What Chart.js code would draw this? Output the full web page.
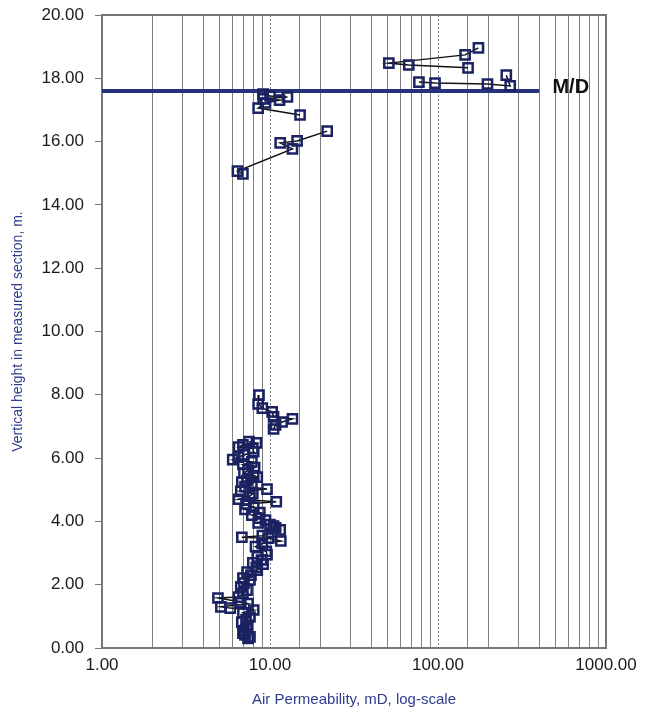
<!DOCTYPE html>
<html>
<head>
<meta charset="utf-8">
<script src="https://cdn.jsdelivr.net/npm/chart.js@4"></script>
<style>
  body { margin: 0; background: #fff; overflow: hidden; }
</style>
</head>
<body>
<canvas id="perm" width="645" height="716"></canvas>
<script>
// permeability (mD) and height (m), grouped the way the lines join them
var upperPermA   = [174, 145, 51, 67, 151];
var upperHeightA = [18.96, 18.74, 18.48, 18.42, 18.33];

var upperPermB   = [77, 96, 197, 269, 255];
var upperHeightB = [17.88, 17.85, 17.82, 17.76, 18.10];

var midPermA   = [9.1, 10.0, 12.7, 9.1, 11.4, 9.4, 8.5, 15.1];
var midHeightA = [17.50, 17.44, 17.41, 17.35, 17.31, 17.22, 17.06, 16.84];

var midPermB   = [21.9, 14.5, 11.5, 13.6, 6.4, 6.9];
var midHeightB = [16.33, 16.02, 15.96, 15.77, 15.07, 14.98];

var lowPermA   = [8.6, 8.5, 9.0, 10.3, 10.5, 13.6, 11.8, 10.8, 10.5];
var lowHeightA = [7.99, 7.71, 7.58, 7.46, 7.30, 7.24, 7.14, 7.05, 6.92];

var basePerm = [7.5, 8.3, 6.9, 6.5, 7.9, 8.0, 7.0, 6.5, 6.0, 7.8, 6.9, 8.1, 7.4, 7.0, 8.0, 8.4,
  7.3, 6.8, 7.8, 7.1, 9.6, 6.7, 7.9, 7.6, 6.5, 10.9, 7.2, 8.0, 7.1, 8.7, 7.8, 8.6, 9.4, 8.5,
  10.0, 10.5, 10.8, 11.5, 10.2, 9.0, 6.8, 9.8, 11.6, 9.0, 8.2, 9.5, 9.6, 8.4, 8.9, 7.9, 9.1,
  8.3, 8.4, 7.3, 7.7, 6.9, 7.6, 7.0, 6.7, 7.3, 6.9, 6.5, 4.9, 6.7, 7.4, 5.1, 5.8, 8.0, 6.9,
  7.6, 7.2, 6.8, 7.3, 7.3, 7.0, 6.9, 7.1, 7.6, 7.4];
var baseHeight = [6.52, 6.48, 6.42, 6.35, 6.30, 6.20, 6.10, 6.03, 5.95, 5.88, 5.80, 5.70, 5.62,
  5.53, 5.45, 5.40, 5.30, 5.24, 5.20, 5.10, 5.02, 4.95, 4.88, 4.80, 4.70, 4.62, 4.55, 4.45,
  4.38, 4.28, 4.20, 4.10, 4.04, 3.95, 3.90, 3.85, 3.80, 3.73, 3.65, 3.55, 3.50, 3.47, 3.38,
  3.30, 3.20, 3.05, 2.95, 2.88, 2.78, 2.69, 2.65, 2.55, 2.46, 2.40, 2.30, 2.21, 2.15, 2.05,
  1.93, 1.83, 1.72, 1.61, 1.58, 1.45, 1.40, 1.30, 1.26, 1.20, 1.11, 0.98, 0.90, 0.82, 0.72,
  0.66, 0.55, 0.47, 0.41, 0.35, 0.30];

// M/D marker line
var mdPerm   = [1, 400];
var mdHeight = [17.6, 17.6];

var xTickLabels = ['1.00', '10.00', '100.00', '1000.00'];
var yTicks = [0, 2, 4, 6, 8, 10, 12, 14, 16, 18, 20];

function pts(xs, ys) {
  return xs.map(function (x, i) { return { x: x, y: ys[i] }; });
}

function series(xs, ys) {
  return {
    data: pts(xs, ys),
    showLine: true,
    borderColor: '#111',
    borderWidth: 1.5,
    pointStyle: 'rect',
    pointRadius: 6.5,
    pointBorderWidth: 2.5,
    pointBorderColor: '#1a2262',
    pointBackgroundColor: 'rgba(255,255,255,0)',
    order: 1
  };
}

var frame = {
  id: 'frame',
  beforeDatasetsDraw: function (chart) {
    var c = chart.ctx, a = chart.chartArea;
    c.save();
    c.strokeStyle = '#777';
    c.lineWidth = 2;
    c.strokeRect(a.left, a.top, a.right - a.left, a.bottom - a.top);
    c.restore();
  },
  afterDatasetsDraw: function (chart) {
    var c = chart.ctx;
    var x = chart.scales.x.getPixelForValue(480);
    var y = chart.scales.y.getPixelForValue(17.6);
    c.save();
    c.fillStyle = '#111';
    c.font = 'bold 20px "Liberation Sans", Arial, sans-serif';
    c.textBaseline = 'middle';
    c.fillText('M/D', x, y - 3);
    c.restore();
  }
};

new Chart(document.getElementById('perm'), {
  type: 'scatter',
  data: {
    datasets: [
      series(upperPermA, upperHeightA),
      series(upperPermB, upperHeightB),
      series(midPermA, midHeightA),
      series(midPermB, midHeightB),
      series(lowPermA, lowHeightA),
      series(basePerm, baseHeight),
      {
        data: pts(mdPerm, mdHeight),
        showLine: true,
        borderColor: '#26337a',
        borderWidth: 4,
        pointRadius: 0,
        order: 2
      }
    ]
  },
  options: {
    responsive: false,
    animation: false,
    events: [],
    layout: { padding: { top: 15, right: 39, left: 0, bottom: 0 } },
    plugins: { legend: { display: false }, tooltip: { enabled: false } },
    scales: {
      x: {
        type: 'logarithmic',
        min: 1,
        max: 1000,
        afterFit: function (s) {
          s.height = 68;
          s.paddingLeft = 0;
          s.paddingRight = 0;
        },
        afterBuildTicks: function (s) {
          s.ticks = s.ticks.filter(function (t) { return t.value >= 1 && t.value <= 1000; });
        },
        ticks: {
          autoSkip: false,
          maxRotation: 0,
          padding: 7,
          color: '#1a1a1a',
          font: { family: '"Liberation Sans", Arial, sans-serif', size: 17 },
          callback: function (v) {
            var l = Math.log10(v);
            if (Math.abs(l - Math.round(l)) > 1e-9) return '';
            return xTickLabels[Math.round(l)];
          }
        },
        grid: { color: '#7f7f7f', lineWidth: 1, drawTicks: false },
        border: {
          color: '#777',
          width: 2,
          dash: function (ctx) {
            if (ctx.tick && (ctx.tick.value === 10 || ctx.tick.value === 100)) return [2, 2];
            return [];
          }
        },
        title: {
          display: true,
          text: 'Air Permeability, mD, log-scale',
          color: '#2f3c8c',
          font: { family: '"Liberation Sans", Arial, sans-serif', size: 15 },
          padding: { top: 0, bottom: 7 }
        }
      },
      y: {
        min: 0,
        max: 20,
        afterFit: function (s) {
          s.width = 102;
          s.paddingTop = 0;
          s.paddingBottom = 0;
        },
        afterBuildTicks: function (s) {
          s.ticks = yTicks.map(function (v) { return { value: v }; });
        },
        ticks: {
          padding: 11,
          color: '#1a1a1a',
          font: { family: '"Liberation Sans", Arial, sans-serif', size: 17 },
          callback: function (v) { return v.toFixed(2); }
        },
        grid: { drawOnChartArea: false, tickLength: 7, color: '#777' },
        border: { color: '#777', width: 2 },
        title: {
          display: true,
          text: 'Vertical height in measured section, m.',
          color: '#2f3c8c',
          font: { family: '"Liberation Sans", Arial, sans-serif', size: 14 },
          padding: { top: 10, bottom: 0 }
        }
      }
    }
  },
  plugins: [frame]
});
</script>
</body>
</html>
